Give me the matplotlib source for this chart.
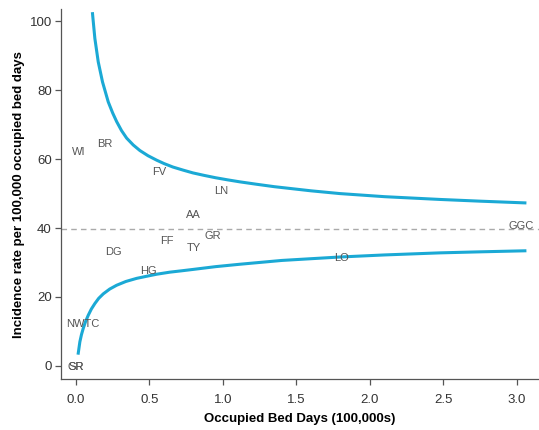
import matplotlib
matplotlib.use("Agg")
import matplotlib.pyplot as plt

plt.rcParams['font.family'] = ['Liberation Sans', 'DejaVu Sans']

# average rate (dashed line)
MEAN_RATE = 39.6

# funnel limits
upper_x = [0.113, 0.129, 0.152, 0.181, 0.220, 0.250, 0.277, 0.31, 0.345, 0.39,
           0.435, 0.49, 0.549, 0.60, 0.66, 0.73, 0.796, 0.87, 0.95, 1.03,
           1.116, 1.23, 1.35, 1.6, 1.796, 2.1, 2.476, 2.75, 3.054]
upper_y = [102.2, 95.0, 88.2, 82.4, 76.6, 73.4, 70.9, 68.3, 66.1, 64.1,
           62.5, 61.0, 59.7, 58.7, 57.7, 56.8, 56.0, 55.3, 54.6, 54.0,
           53.4, 52.7, 52.0, 50.8, 50.0, 49.1, 48.3, 47.8, 47.3]
lower_x = [0.016, 0.027, 0.038, 0.050, 0.066, 0.084, 0.105, 0.129, 0.155, 0.186,
           0.23, 0.277, 0.34, 0.413, 0.48, 0.549, 0.639, 0.72, 0.798, 0.95,
           1.116, 1.4, 1.796, 2.1, 2.476, 2.75, 3.054]
lower_y = [3.7, 7.0, 9.1, 10.9, 12.9, 14.7, 16.5, 18.1, 19.6, 20.9,
           22.3, 23.4, 24.5, 25.4, 26.0, 26.6, 27.2, 27.6, 28.0, 28.8,
           29.5, 30.6, 31.6, 32.2, 32.8, 33.1, 33.4]

# hospital labels
labels = ['WI', 'BR', 'FV', 'LN', 'AA', 'GR', 'FF', 'TY', 'DG', 'HG',
          'NWTC', 'SR', 'GR', 'LO', 'GGC']
bed_days = [0.016, 0.20, 0.567, 0.99, 0.80, 0.93, 0.617, 0.80, 0.254, 0.49,
            0.045, 0.005, 0.002, 1.81, 3.03]
rates = [62.1, 64.5, 56.3, 50.7, 43.8, 37.8, 36.2, 34.3, 33.0, 27.6,
         12.1, -0.2, -0.2, 31.2, 40.5]

xticks = [0.0, 0.5, 1.0, 1.5, 2.0, 2.5, 3.0]
yticks = [0, 20, 40, 60, 80, 100]

fig = plt.figure(figsize=(5.39, 4.30), dpi=100)
ax = fig.add_axes([0.113, 0.1186, 0.887, 0.860])

ax.axhline(MEAN_RATE, color='#aaaaaa', lw=1, ls=(0, (4, 3)), zorder=1)

col = '#1ba9d5'
ax.plot(upper_x, upper_y, color=col, lw=2.2, solid_joinstyle='round', zorder=2)
ax.plot(lower_x, lower_y, color=col, lw=2.2, solid_joinstyle='round', zorder=2)

for lab, x, y in zip(labels, bed_days, rates):
    ax.text(x, y, lab, fontsize=8, color='#555555', ha='center', va='center', zorder=3)

ax.set_xlim(-0.102, 3.15)
ax.set_ylim(-3.8, 103.5)
ax.set_xticks(xticks)
ax.set_xticklabels(['%.1f' % v for v in xticks])
ax.set_yticks(yticks)

for s in ['top', 'right']:
    ax.spines[s].set_visible(False)
for s in ['left', 'bottom']:
    ax.spines[s].set_color('#555555')
    ax.spines[s].set_linewidth(0.9)

ax.tick_params(axis='both', direction='out', length=4.5, width=0.9,
               color='#555555', labelcolor='#333333', labelsize=9.5)
ax.tick_params(axis='y', pad=2)
ax.tick_params(axis='x', pad=6)

ax.set_xlabel('Occupied Bed Days (100,000s)', fontsize=9.5, fontweight='bold', labelpad=5)
ax.set_ylabel('Incidence rate per 100,000 occupied bed days', fontsize=9.5,
              fontweight='bold', labelpad=3)

fig.savefig('out.png', dpi=100)
